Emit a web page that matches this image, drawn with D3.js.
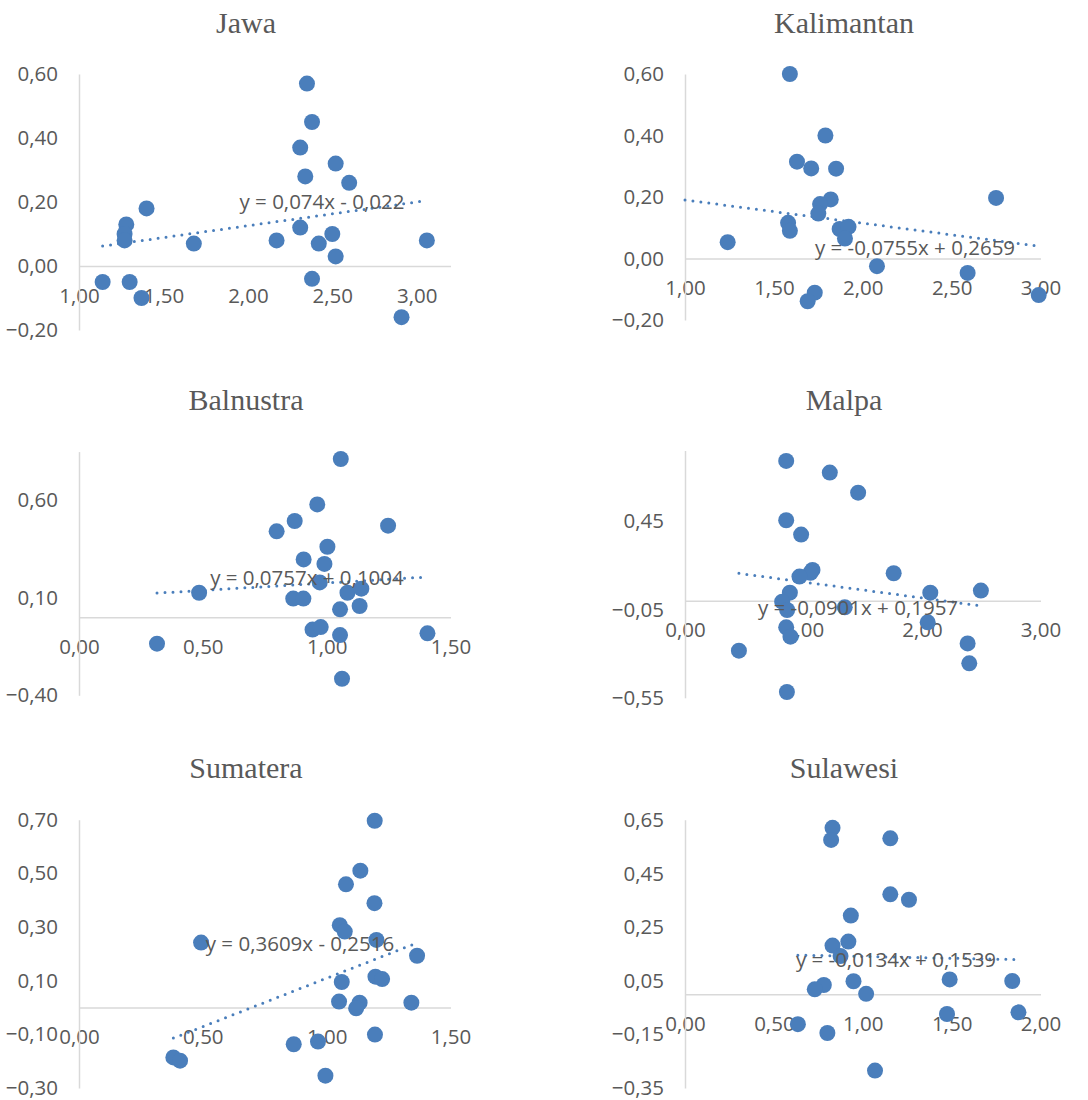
<!DOCTYPE html>
<html>
<head>
<meta charset="utf-8">
<script src="https://cdn.jsdelivr.net/npm/d3@7"></script>
<style>
  body { margin: 0; background: #fff; }
  svg { display: block; }
</style>
</head>
<body>
<svg id="chart" width="1088" height="1100"></svg>
<script>
// region names
const regions = ["Jawa", "Kalimantan", "Balnustra", "Malpa", "Sumatera", "Sulawesi"];

// data (x, y per region)
const jawaX = [2.35, 2.38, 2.31, 2.52, 2.34, 2.60, 1.40, 1.28, 1.27, 1.27, 2.31, 1.68, 2.17, 2.42, 2.50, 2.52, 3.06, 1.14, 1.30, 1.37, 2.38, 2.91];
const jawaY = [0.57, 0.45, 0.37, 0.32, 0.28, 0.26, 0.18, 0.13, 0.10, 0.08, 0.12, 0.07, 0.08, 0.07, 0.10, 0.03, 0.08, -0.05, -0.05, -0.10, -0.04, -0.16];

const kalX = [1.59, 1.79, 1.63, 1.71, 1.85, 1.82, 1.76, 1.75, 2.75, 1.58, 1.59, 1.24, 1.87, 1.92, 1.90, 2.08, 2.59, 1.73, 1.69, 2.99];
const kalY = [0.60, 0.40, 0.315, 0.293, 0.292, 0.192, 0.177, 0.146, 0.197, 0.116, 0.090, 0.053, 0.096, 0.103, 0.065, -0.025, -0.047, -0.111, -0.139, -0.119];

const balX = [1.057, 0.962, 0.871, 0.798, 1.248, 1.003, 0.907, 0.991, 0.972, 0.485, 1.084, 1.140, 0.865, 0.906, 1.054, 1.133, 0.943, 0.976, 1.054, 1.407, 0.315, 1.062];
const balY = [0.812, 0.579, 0.494, 0.441, 0.470, 0.362, 0.297, 0.274, 0.179, 0.126, 0.126, 0.147, 0.096, 0.096, 0.041, 0.058, -0.063, -0.050, -0.091, -0.082, -0.135, -0.315];

const malX = [0.854, 1.222, 1.461, 0.854, 0.980, 1.076, 1.059, 0.966, 1.761, 0.885, 2.070, 2.497, 0.820, 0.862, 1.348, 0.854, 0.890, 2.048, 0.455, 2.385, 2.399, 0.860];
const malY = [0.791, 0.725, 0.611, 0.455, 0.374, 0.174, 0.158, 0.136, 0.155, 0.045, 0.045, 0.057, -0.006, -0.053, -0.038, -0.151, -0.204, -0.123, -0.283, -0.242, -0.355, -0.517];

const sumX = [1.194, 1.136, 1.078, 1.193, 1.053, 1.073, 0.493, 1.201, 1.365, 1.197, 1.224, 1.061, 1.050, 1.133, 1.119, 1.342, 1.195, 0.867, 0.965, 0.381, 0.408, 0.995];
const sumY = [0.696, 0.510, 0.459, 0.389, 0.307, 0.283, 0.242, 0.252, 0.193, 0.115, 0.106, 0.095, 0.022, 0.018, -0.003, 0.018, -0.101, -0.137, -0.127, -0.186, -0.198, -0.254];

const sulX = [0.830, 0.822, 1.155, 1.155, 1.260, 0.933, 0.919, 0.830, 0.875, 0.948, 0.781, 0.730, 1.019, 1.489, 1.841, 1.474, 1.876, 0.635, 0.801, 1.069];
const sulY = [0.620, 0.575, 0.581, 0.372, 0.352, 0.293, 0.196, 0.181, 0.142, 0.048, 0.034, 0.018, 0.001, 0.055, 0.049, -0.074, -0.068, -0.112, -0.145, -0.285];

// trendline coefficients and labels as printed
const slopes = [0.074, -0.0755, 0.0757, -0.0901, 0.3609, -0.0134];
const intercepts = [-0.022, 0.2659, 0.1004, 0.1957, -0.2516, 0.1539];
const eqLabels = [
  "y = 0,074x - 0,022",
  "y = -0,0755x + 0,2659",
  "y = 0,0757x + 0,1004",
  "y = -0,0901x + 0,1957",
  "y = 0,3609x - 0,2516",
  "y = -0,0134x + 0,1539"
];

// axis domains and tick values
const xDomains = [[1, 3.2], [1, 3], [0, 1.5], [0, 3], [0, 1.5], [0, 2]];
const yDomains = [[-0.2, 0.6], [-0.2, 0.6], [-0.4, 0.85], [-0.55, 0.85], [-0.3, 0.7], [-0.35, 0.65]];
const xTicks = [
  [1, 1.5, 2, 2.5, 3],
  [1, 1.5, 2, 2.5, 3],
  [0, 0.5, 1, 1.5],
  [0, 1, 2, 3],
  [0, 0.5, 1, 1.5],
  [0, 0.5, 1, 1.5, 2]
];
const yTicks = [
  [-0.2, 0, 0.2, 0.4, 0.6],
  [-0.2, 0, 0.2, 0.4, 0.6],
  [-0.4, 0.1, 0.6],
  [-0.55, -0.05, 0.45],
  [-0.3, -0.1, 0.1, 0.3, 0.5, 0.7],
  [-0.35, -0.15, 0.05, 0.25, 0.45, 0.65]
];
// trendline starts (Kalimantan runs to the axis minimum)
const trendStart = [null, 1.0, null, null, null, null];

const seriesX = [jawaX, kalX, balX, malX, sumX, sulX];
const seriesY = [jawaY, kalY, balY, malY, sumY, sulY];

// pixel layout for each panel
const layout = [
  { xr: [79, 450.5], yr: [330, 74], titleX: 246, titleY: 33, eqX: 322, eqY: 202 },
  { xr: [685, 1040.5], yr: [320, 74], titleX: 844, titleY: 33, eqX: 915, eqY: 248 },
  { xr: [79, 450.5], yr: [695.3, 451.6], titleX: 246, titleY: 410, eqX: 307, eqY: 578 },
  { xr: [685, 1040.5], yr: [697.8, 450.5], titleX: 844, titleY: 410, eqX: 858, eqY: 608 },
  { xr: [79, 450.5], yr: [1088, 819.7], titleX: 246, titleY: 778, eqX: 300, eqY: 944 },
  { xr: [685, 1040.5], yr: [1088, 819.8], titleX: 844, titleY: 778, eqX: 896, eqY: 960 }
];

const dotColor = "#4a7ebb";
const textColor = "#595959";
const axisColor = "#d9d9d9";
const fmt = (v) => d3.format(".2f")(v).replace(".", ",");

const svg = d3.select("#chart");

regions.forEach((name, i) => {
  const L = layout[i];
  const x = d3.scaleLinear().domain(xDomains[i]).range(L.xr);
  const y = d3.scaleLinear().domain(yDomains[i]).range(L.yr);
  const g = svg.append("g");
  const pts = seriesX[i].map((v, k) => ({ x: v, y: seriesY[i][k] }));

  // title
  g.append("text")
    .attr("x", L.titleX)
    .attr("y", L.titleY)
    .attr("text-anchor", "middle")
    .style("font-family", "'Liberation Serif', 'Times New Roman', serif")
    .style("font-size", "30px")
    .style("fill", textColor)
    .text(name);

  // horizontal axis at y = 0
  const xAxis = g.append("g")
    .attr("transform", `translate(0, ${y(0)})`)
    .call(d3.axisBottom(x).tickValues(xTicks[i]).tickSize(0).tickPadding(22).tickFormat(fmt));
  xAxis.select(".domain").attr("stroke", axisColor).attr("stroke-width", 1.5);

  // vertical axis at x = domain min
  const yAxis = g.append("g")
    .attr("transform", `translate(${L.xr[0]}, 0)`)
    .call(d3.axisLeft(y).tickValues(yTicks[i]).tickSize(0).tickPadding(21).tickFormat(fmt));
  yAxis.select(".domain").attr("stroke", axisColor).attr("stroke-width", 1.5);

  g.selectAll(".tick text")
    .style("font-family", "'Open Sans', sans-serif")
    .style("font-size", "20.5px")
    .style("fill", textColor);

  // trendline
  const x0 = trendStart[i] != null ? trendStart[i] : d3.min(pts, (d) => d.x);
  const x1 = d3.max(pts, (d) => d.x);
  const f = (v) => slopes[i] * v + intercepts[i];
  g.append("line")
    .attr("x1", x(x0))
    .attr("y1", y(f(x0)))
    .attr("x2", x(x1))
    .attr("y2", y(f(x1)))
    .attr("stroke", dotColor)
    .attr("stroke-width", 3)
    .attr("stroke-linecap", "round")
    .attr("stroke-dasharray", "0 8");

  // points
  g.selectAll(".dot")
    .data(pts)
    .enter()
    .append("circle")
    .attr("class", "dot")
    .attr("cx", (d) => x(d.x))
    .attr("cy", (d) => y(d.y))
    .attr("r", 8)
    .attr("fill", dotColor);

  // equation label
  g.append("text")
    .attr("x", L.eqX)
    .attr("y", L.eqY)
    .attr("dy", "0.35em")
    .attr("text-anchor", "middle")
    .style("font-family", "'Open Sans', sans-serif")
    .style("font-size", "20.5px")
    .style("fill", textColor)
    .text(eqLabels[i]);
});
</script>
</body>
</html>
